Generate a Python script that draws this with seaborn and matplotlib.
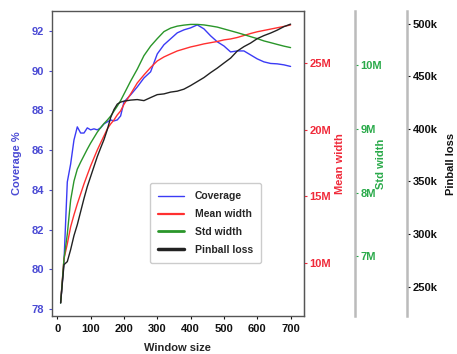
import pandas as pd
import matplotlib
matplotlib.use("Agg")
import matplotlib.pyplot as plt
import seaborn as sns
from matplotlib.lines import Line2D
from matplotlib.ticker import FuncFormatter

sns.set_style("ticks")
plt.rcParams["font.family"] = ["Liberation Sans", "DejaVu Sans"]
plt.rcParams["font.weight"] = "bold"
plt.rcParams["font.size"] = 8

# window sizes
window = [10, 20, 30, 40, 50, 60, 70, 80, 90, 100, 110, 120, 130, 140, 150, 160, 170, 180, 190,
          200, 220, 240, 260, 280, 300, 320, 340, 360, 380, 400, 420, 440, 460, 480, 500, 520,
          540, 560, 580, 600, 620, 640, 660, 680, 700]

coverage = [78.30, 80.37, 84.40, 85.30, 86.51, 87.17, 86.86, 86.86, 87.12, 87.02, 87.07, 87.02,
            87.12, 87.32, 87.42, 87.52, 87.47, 87.52, 87.72, 88.42, 88.78, 89.18, 89.63, 89.94,
            90.84, 91.30, 91.60, 91.90, 92.05, 92.15, 92.30, 92.10, 91.75, 91.45, 91.24, 90.94,
            90.99, 90.99, 90.79, 90.59, 90.44, 90.36, 90.34, 90.29, 90.21]

# millions
mean_width = [7.00, 10.30, 11.42, 12.70, 13.60, 14.42, 15.17, 15.92, 16.60, 17.27, 17.87, 18.47,
              19.00, 19.52, 20.05, 20.42, 20.72, 21.10, 21.40, 21.89, 22.67, 23.50, 24.10, 24.66,
              25.15, 25.45, 25.68, 25.90, 26.05, 26.20, 26.31, 26.43, 26.52, 26.61, 26.73, 26.80,
              26.91, 27.06, 27.21, 27.34, 27.44, 27.54, 27.64, 27.74, 27.85]

# millions
std_width = [6.264, 6.954, 7.347, 7.881, 8.179, 8.367, 8.477, 8.579, 8.681, 8.776, 8.862, 8.948,
             9.019, 9.082, 9.137, 9.199, 9.278, 9.356, 9.443, 9.545, 9.749, 9.937, 10.149, 10.298,
             10.416, 10.526, 10.581, 10.612, 10.628, 10.639, 10.639, 10.631, 10.615, 10.597,
             10.568, 10.539, 10.510, 10.479, 10.447, 10.416, 10.380, 10.353, 10.325, 10.298, 10.275]

# thousands
pinball = [234.8, 270.9, 273.8, 285.2, 298.5, 308.9, 321.3, 333.7, 345.1, 354.6, 364.1, 373.6,
           381.8, 389.7, 399.2, 410.6, 418.3, 423.5, 425.4, 426.3, 427.3, 427.8, 426.8, 429.7,
           432.5, 433.2, 434.9, 435.8, 437.7, 441.1, 444.9, 448.7, 453.4, 457.7, 462.5, 467.2,
           473.9, 478.1, 481.5, 485.7, 488.6, 491.0, 493.8, 497.1, 499.5]

df = pd.DataFrame({"window": window, "coverage": coverage,
                   "mean": [v * 1e6 for v in mean_width],
                   "std": [v * 1e6 for v in std_width],
                   "pinball": [v * 1e3 for v in pinball]})

c_cov, c_mean, c_std, c_pin = "#3b3bf5", "#ff3030", "#2a962a", "#222222"
t_cov, t_mean, t_std, t_pin = "#4a4ad4", "#f02a3a", "#2aaa4a", "#111111"

fig = plt.figure(figsize=(4.57, 3.54), dpi=100)
ax = fig.add_axes([0.113, 0.107, 0.552, 0.862])
ax2 = ax.twinx()
ax3 = ax.twinx()
ax4 = ax.twinx()

sns.lineplot(data=df, x="window", y="coverage", ax=ax, color=c_cov, linewidth=1)
sns.lineplot(data=df, x="window", y="mean", ax=ax2, color=c_mean, linewidth=1)
sns.lineplot(data=df, x="window", y="std", ax=ax3, color=c_std, linewidth=1)
sns.lineplot(data=df, x="window", y="pinball", ax=ax4, color=c_pin, linewidth=1)

ax.set_xlim(-17, 740)
ax.set_ylim(77.65, 93.0)
ax2.set_ylim(6.0e6, 28.9e6)
ax3.set_ylim(6.06e6, 10.85e6)
ax4.set_ylim(222e3, 512e3)

ax.set_xticks([0, 100, 200, 300, 400, 500, 600, 700])
ax.set_yticks([78, 80, 82, 84, 86, 88, 90, 92])
ax2.set_yticks([10e6, 15e6, 20e6, 25e6])
ax3.set_yticks([7e6, 8e6, 9e6, 10e6])
ax4.set_yticks([250e3, 300e3, 350e3, 400e3, 450e3, 500e3])
ax2.yaxis.set_major_formatter(FuncFormatter(lambda v, p: f"{v / 1e6:.0f}M"))
ax3.yaxis.set_major_formatter(FuncFormatter(lambda v, p: f"{v / 1e6:.0f}M"))
ax4.yaxis.set_major_formatter(FuncFormatter(lambda v, p: f"{v / 1e3:.0f}k"))

ax.set_xlabel("Window size", fontweight="bold", labelpad=7)
ax.set_ylabel("Coverage %", color=t_cov, fontweight="bold", labelpad=7)
ax2.set_ylabel("Mean width", color=t_mean, fontweight="bold", labelpad=3)
ax3.set_ylabel("Std width", color=t_std, fontweight="bold", labelpad=-4)
ax4.set_ylabel("Pinball loss", color=t_pin, fontweight="bold", labelpad=6)

ax.tick_params(axis="x", colors="#111111", length=2, width=0.8)
ax.tick_params(axis="y", colors=t_cov, length=2, width=0.8)
ax2.tick_params(axis="y", colors=t_mean, length=2, width=0.8, pad=2)
ax3.tick_params(axis="y", colors=t_std, length=2, width=0.8, pad=2)
ax4.tick_params(axis="y", colors=t_pin, length=2, width=0.8, pad=2)
for a in (ax, ax2, ax3, ax4):
    for lab in a.get_xticklabels() + a.get_yticklabels():
        lab.set_fontweight("bold")

for s in ax.spines.values():
    s.set_color("#555555")
    s.set_linewidth(1)
ax2.spines["right"].set_color("#555555")
ax3.spines["right"].set_position(("axes", 1.202))
ax4.spines["right"].set_position(("axes", 1.408))
for a in (ax3, ax4):
    a.spines["right"].set_color("#bbbbbb")
    a.spines["right"].set_linewidth(1.8)
for a in (ax2, ax3, ax4):
    for k in ("left", "top", "bottom"):
        a.spines[k].set_visible(False)

handles = [Line2D([], [], color=c_cov, lw=1),
           Line2D([], [], color=c_mean, lw=1.6),
           Line2D([], [], color=c_std, lw=2),
           Line2D([], [], color=c_pin, lw=2.5)]
labels = ["Coverage", "Mean width", "Std width", "Pinball loss"]
ax4.legend(handles, labels, loc="upper left", bbox_to_anchor=(0.39, 0.436),
           bbox_transform=ax.transAxes, borderaxespad=0,
           prop={"weight": "bold", "size": 7.5},
           handlelength=2.5, handletextpad=1.0, labelspacing=0.75, borderpad=0.8,
           framealpha=1, edgecolor="#cccccc", fancybox=True)

fig.savefig("out.png", dpi=100)
